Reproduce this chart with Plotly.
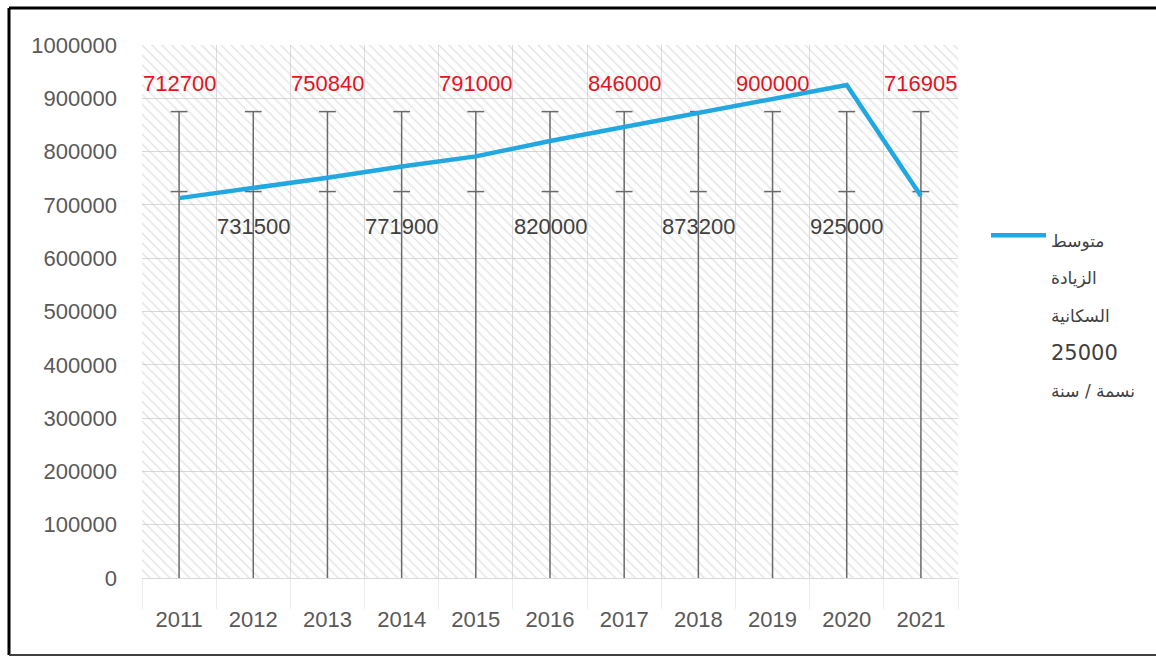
import plotly.graph_objects as go

# ---- data ----
years = ["2011", "2012", "2013", "2014", "2015", "2016", "2017", "2018", "2019", "2020", "2021"]
population = [712700, 731500, 750840, 771900, 791000, 820000, 846000, 873200, 900000, 925000, 716905]
range_high = [875000] * 11
range_low = [725000] * 11
name_lines = ["متوسط", "الزيادة", "السكانية", "25000", "نسمة / سنة"]
y_max = 1000000
y_step = 100000

# ---- layout constants ----
W, H = 1156, 657
ML, MR, MT, MB = 142, 198, 45, 79
PW, PH = W - ML - MR, H - MT - MB
FONT = "Liberation Sans, Arial, sans-serif"
FS = 22


def px_x(px):
    return (px - ML) / PW


def px_y(py):
    return (H - MB - py) / PH


series_name = "<br>".join(
    '<span style="font-size:%dpx">%s</span>' % (21 if ln.isdigit() else 17, ln)
    for ln in name_lines)

fig = go.Figure()

# hatched plot-area background
fig.add_trace(go.Bar(
    x=years, y=[y_max] * len(years), width=1,
    marker=dict(color="rgba(0,0,0,0)", line=dict(width=0),
                pattern=dict(shape="\\", fgcolor="#c8c8c8", bgcolor="rgba(0,0,0,0)",
                             size=7, solidity=0.2)),
    hoverinfo="skip", showlegend=False))

# high-low vertical lines
vx, vy = [], []
for yr, hi in zip(years, range_high):
    vx += [yr, yr, None]
    vy += [0, hi, None]
fig.add_trace(go.Scatter(x=vx, y=vy, mode="lines",
                         line=dict(color="#6a6a6a", width=1.5),
                         hoverinfo="skip", showlegend=False))
fig.add_trace(go.Scatter(x=years + years, y=range_high + range_low, mode="markers",
                         marker=dict(symbol="line-ew", size=12,
                                     line=dict(color="#6a6a6a", width=1.5)),
                         hoverinfo="skip", showlegend=False))

# main series
fig.add_trace(go.Scatter(x=years, y=population, mode="lines", name=series_name,
                         line=dict(color="#22a8e1", width=4.5)))

# value labels (alternating above/below)
for i, v in enumerate(population):
    above = i % 2 == 0
    fig.add_annotation(x=i, y=928000 if above else 660000, xref="x", yref="y",
                       text=str(v), showarrow=False,
                       font=dict(family=FONT, size=FS, color="#e3131f" if above else "#404040"))

# outer frame
fig.add_shape(type="line", xref="paper", yref="paper",
              x0=px_x(9), x1=px_x(9), y0=px_y(655), y1=px_y(8),
              line=dict(color="#000000", width=3))
fig.add_shape(type="line", xref="paper", yref="paper",
              x0=px_x(9), x1=px_x(W + 5), y0=px_y(8), y1=px_y(8),
              line=dict(color="#000000", width=3))
fig.add_shape(type="line", xref="paper", yref="paper",
              x0=px_x(9), x1=px_x(W + 5), y0=px_y(655), y1=px_y(655),
              line=dict(color="#404040", width=2))

fig.update_layout(
    width=W, height=H,
    margin=dict(l=ML, r=MR, t=MT, b=MB),
    paper_bgcolor="white", plot_bgcolor="white",
    bargap=0,
    font=dict(family=FONT, size=FS, color="#595959"),
    showlegend=True,
    legend=dict(x=px_x(986), y=px_y(210), xanchor="left", yanchor="top",
                font=dict(family="DejaVu Sans, sans-serif", size=29, color="#404040"),
                valign="top", itemwidth=55, bgcolor="rgba(0,0,0,0)"),
    xaxis=dict(type="category", range=[-0.5, len(years) - 0.5], tickson="boundaries",
               showgrid=True, gridcolor="#dcdcdc", gridwidth=1,
               ticks="outside", ticklen=30, tickcolor="#ececec",
               ticklabelstandoff=22,
               showline=True, linecolor="#d9d9d9", zeroline=False,
               tickfont=dict(family=FONT, size=FS, color="#595959")),
    yaxis=dict(range=[0, y_max], dtick=y_step, tickformat="d",
               showgrid=True, gridcolor="#d9d9d9", zeroline=False,
               ticks="", ticklabelstandoff=24,
               tickfont=dict(family=FONT, size=FS, color="#595959")),
)

fig.write_html("out.html")
